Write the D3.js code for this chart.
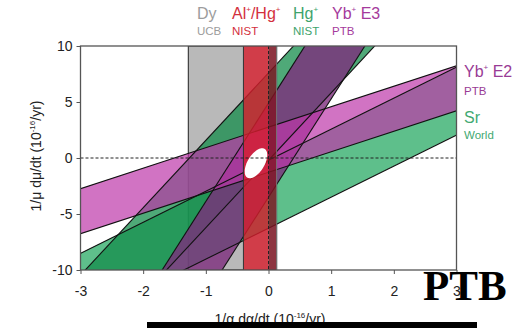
<!DOCTYPE html>
<html>
<head>
<meta charset="utf-8">
<script src="https://cdn.jsdelivr.net/npm/d3@7"></script>
<style>
  body { margin: 0; background: #fff; }
  svg { display: block; }
  text { font-family: "Liberation Sans", Arial, sans-serif; }
</style>
</head>
<body>
<svg width="527" height="328"></svg>
<script>
// axis ticks
const xTicks = [-3, -2, -1, 0, 1, 2, 3];
const yTicks = [-10, -5, 0, 5, 10];

// vertical constraints (alpha only), in 1e-16/yr
const vNames = ['Dy', 'Al+/Hg+', 'Al+/Hg+ edge'];
const vLo = [-1.28, -0.40, 0.0];
const vHi = [0.13, 0.0, 0.13];

// sloped stripes: mu = k * alpha + c,  c between lo and hi
const bandNames = ['Sr', 'Hg+', 'Yb+ E3', 'Yb+ E2'];
const bandSlope = [2.77, 6.02, 8.78, 1.83];
const bandLo = [-6.26, -0.2, -3.5, -1.27];
const bandHi = [-0.2, 7.6, 4.9, 2.75];

// combined result (white ellipse)
const fitCentre = [-0.2, -0.47];
const fitSigma = [0.18, 1.34];
const fitRho = 0.55;

const vStyle = {
  'Dy': { fill: '#b9b9b9', op: 1 },
  'Al+/Hg+': { fill: 'rgb(215,30,45)', op: 0.8 },
  'Al+/Hg+ edge': { fill: 'rgb(130,20,35)', op: 0.8 }
};
const bandStyle = {
  'Sr': { fill: 'rgb(40,170,100)', op: 0.75 },
  'Hg+': { fill: 'rgb(20,140,75)', op: 0.75 },
  'Yb+ E3': { fill: 'rgb(125,45,125)', op: 0.8 },
  'Yb+ E2': { fill: 'rgb(190,55,170)', op: 0.7 }
};

const svg = d3.select('svg');
const x = d3.scaleLinear().domain([-3, 3]).range([80.5, 456.5]);
const y = d3.scaleLinear().domain([-10, 10]).range([270, 46]);

svg.append('clipPath').attr('id', 'plot')
  .append('rect')
  .attr('x', x(-3)).attr('y', y(10))
  .attr('width', x(3) - x(-3)).attr('height', y(-10) - y(10));

const plot = svg.append('g').attr('clip-path', 'url(#plot)');

let vbands = vNames.map((name, i) => ({ name, lo: vLo[i], hi: vHi[i] }));
let bands = bandNames.map((name, i) => ({ name, k: bandSlope[i], lo: bandLo[i], hi: bandHi[i] }));

// grey Dy stripe sits underneath everything
plot.selectAll('rect.dy')
  .data(vbands.filter(d => d.name === 'Dy'))
  .join('rect')
  .attr('class', 'dy')
  .attr('x', d => x(d.lo)).attr('width', d => x(d.hi) - x(d.lo))
  .attr('y', y(10)).attr('height', y(-10) - y(10))
  .attr('fill', d => vStyle[d.name].fill)
  .attr('stroke', '#222').attr('stroke-width', 1);

const line = d3.line().x(d => x(d[0])).y(d => y(d[1]));
const edge = (k, c) => [[-4, c - 4 * k], [4, c + 4 * k]];

plot.selectAll('path.band')
  .data(bands)
  .join('path')
  .attr('class', 'band')
  .attr('d', d => line([[-4, d.lo - 4 * d.k], [4, d.lo + 4 * d.k], [4, d.hi + 4 * d.k], [-4, d.hi - 4 * d.k]]) + 'Z')
  .attr('fill', d => bandStyle[d.name].fill)
  .attr('fill-opacity', d => bandStyle[d.name].op);

plot.selectAll('path.edge')
  .data(bands.flatMap(d => [edge(d.k, d.lo), edge(d.k, d.hi)]))
  .join('path')
  .attr('class', 'edge')
  .attr('d', line)
  .attr('fill', 'none')
  .attr('stroke', '#111')
  .attr('stroke-width', 1.1);

plot.selectAll('rect.alhg')
  .data(vbands.filter(d => d.name !== 'Dy'))
  .join('rect')
  .attr('class', 'alhg')
  .attr('x', d => x(d.lo)).attr('width', d => x(d.hi) - x(d.lo))
  .attr('y', y(10)).attr('height', y(-10) - y(10))
  .attr('fill', d => vStyle[d.name].fill)
  .attr('fill-opacity', d => vStyle[d.name].op);

plot.append('line')
  .attr('x1', x(-0.40)).attr('x2', x(-0.40))
  .attr('y1', y(10)).attr('y2', y(-10))
  .attr('stroke', '#333').attr('stroke-width', 1);
plot.append('line')
  .attr('x1', x(0.13)).attr('x2', x(0.13))
  .attr('y1', y(10)).attr('y2', y(-10))
  .attr('stroke', '#777').attr('stroke-width', 1);

// uncertainty ellipse of the combined fit
const ell = d3.range(0, 2 * Math.PI, Math.PI / 60).map(t => [
  fitCentre[0] + fitSigma[0] * Math.cos(t),
  fitCentre[1] + fitSigma[1] * (fitRho * Math.cos(t) + Math.sqrt(1 - fitRho * fitRho) * Math.sin(t))
]);
plot.append('path')
  .attr('d', line.curve(d3.curveLinearClosed)(ell))
  .attr('fill', '#fff');
line.curve(d3.curveLinear);

// dashed zero lines
plot.append('line')
  .attr('x1', x(-3)).attr('x2', x(3)).attr('y1', y(0)).attr('y2', y(0))
  .attr('stroke', '#222').attr('stroke-dasharray', '3,2');
plot.append('line')
  .attr('x1', x(0)).attr('x2', x(0)).attr('y1', y(10)).attr('y2', y(-10))
  .attr('stroke', '#222').attr('stroke-dasharray', '3,2');

// frame
svg.append('rect')
  .attr('x', x(-3)).attr('y', y(10))
  .attr('width', x(3) - x(-3)).attr('height', y(-10) - y(10))
  .attr('fill', 'none').attr('stroke', '#555').attr('stroke-width', 1.3);

// axes
const yAxis = svg.append('g').attr('transform', `translate(${x(-3)},0)`)
  .call(d3.axisLeft(y).tickValues(yTicks).tickSize(4).tickPadding(4).tickFormat(d => String(d)));
const xAxis = svg.append('g').attr('transform', `translate(0,${y(-10)})`)
  .call(d3.axisBottom(x).tickValues(xTicks).tickSize(4).tickPadding(12).tickFormat(d => String(d)));
[xAxis, yAxis].forEach(g => {
  g.select('.domain').remove();
  g.selectAll('line').attr('stroke', '#555');
  g.selectAll('text').attr('font-size', 14).attr('fill', '#222')
    .style('font-family', '"Liberation Sans", Arial, sans-serif');
});

// axis titles
const yTitle = svg.append('text')
  .attr('transform', 'translate(41,156) rotate(-90)')
  .attr('text-anchor', 'middle').attr('font-size', 14).attr('fill', '#222');
yTitle.append('tspan').text('1/μ dμ/dt (10');
yTitle.append('tspan').attr('font-size', 8).attr('dy', -6).text('-16');
yTitle.append('tspan').attr('dy', 6).text('/yr)');

const xTitle = svg.append('text')
  .attr('x', 270).attr('y', 324)
  .attr('text-anchor', 'middle').attr('font-size', 14).attr('fill', '#222');
xTitle.append('tspan').text('1/α dα/dt (10');
xTitle.append('tspan').attr('font-size', 8).attr('dy', -6).text('-16');
xTitle.append('tspan').attr('dy', 6).text('/yr)');

// stripe labels
const labelText = [
  ['Dy', '', '', '', 'UCB'],
  ['Al', '+', '/Hg', '+', 'NIST'],
  ['Hg', '+', '', '', 'NIST'],
  ['Yb', '+', ' E3', '', 'PTB'],
  ['Yb', '+', ' E2', '', 'PTB'],
  ['Sr', '', '', '', 'World']
];
const labelColor = ['#9c9c9c', '#d3303d', '#3ea36c', '#a53a9c', '#993b95', '#42a972'];
const labelPos = [[197, 19, 35], [232, 19, 35], [293, 19, 35], [332, 19, 35], [464, 77, 95], [464, 123, 139]];

labelText.forEach((parts, i) => {
  const [lx, ly, ly2] = labelPos[i];
  const t = svg.append('text').attr('x', lx).attr('y', ly)
    .attr('font-size', 16).attr('fill', labelColor[i]);
  t.append('tspan').text(parts[0]);
  if (parts[1]) t.append('tspan').attr('font-size', 8).attr('dy', -7).text(parts[1]);
  if (parts[2]) t.append('tspan').attr('dy', parts[1] ? 7 : 0).text(parts[2]);
  if (parts[3]) t.append('tspan').attr('font-size', 8).attr('dy', -7).text(parts[3]);
  svg.append('text').attr('x', lx).attr('y', ly2)
    .attr('font-size', 11.5).attr('fill', labelColor[i]).text(parts[4]);
});

// overlay stamp and bar
svg.append('text')
  .attr('x', 423).attr('y', 300)
  .style('font-family', '"Liberation Serif", "DejaVu Serif", serif')
  .attr('font-weight', 'bold').attr('font-size', 43).attr('fill', '#000')
  .text('PTB');
svg.append('rect')
  .attr('x', 147).attr('y', 322).attr('width', 330).attr('height', 6)
  .attr('fill', '#000');
</script>
</body>
</html>
